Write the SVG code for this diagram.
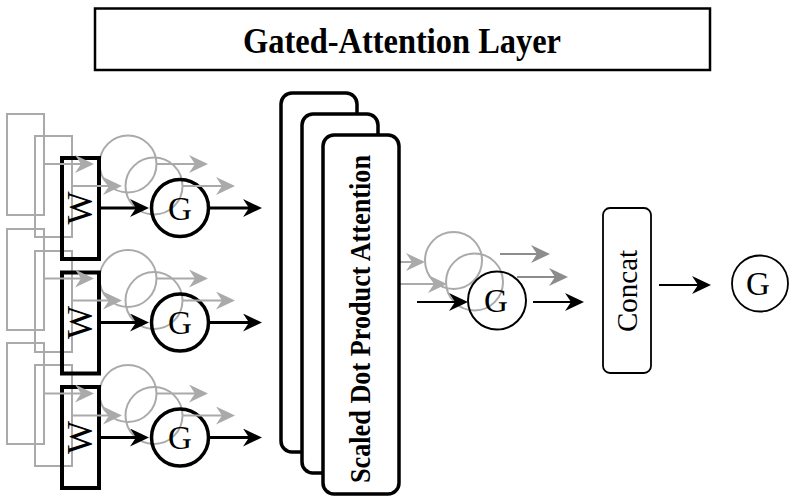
<svg xmlns="http://www.w3.org/2000/svg" width="794" height="502" viewBox="0 0 794 502">
  <style>
    .blk { fill: none; stroke: #000; }
    .gry { fill: none; stroke: #aaa; stroke-width: 2; }
    .gry2 { fill: none; stroke: #8c8c8c; stroke-width: 2; }
    .serif { font-family: "Liberation Serif", "Times New Roman", serif; fill: #000; }
    .att { fill: #fff; stroke: #000; stroke-width: 3.5; }
  </style>
  <defs>
    <marker id="ab" markerUnits="userSpaceOnUse" markerWidth="19" markerHeight="18" refX="9" refY="9" orient="auto">
      <path d="M0,0 L19,9 L0,18 L6,9 z" fill="#000"/>
    </marker>
    <marker id="ag" markerUnits="userSpaceOnUse" markerWidth="19" markerHeight="18" refX="9" refY="9" orient="auto">
      <path d="M0,0 L19,9 L0,18 L6,9 z" fill="#aaa"/>
    </marker>
    <marker id="ag2" markerUnits="userSpaceOnUse" markerWidth="19" markerHeight="18" refX="9" refY="9" orient="auto">
      <path d="M0,0 L19,9 L0,18 L6,9 z" fill="#8c8c8c"/>
    </marker>
  </defs>

  <g id="title">
    <rect x="95" y="8.5" width="615" height="61.5" fill="none" stroke="#000" stroke-width="2.5"/>
    <text class="serif" x="402" y="53" font-size="36" font-weight="bold" text-anchor="middle" textLength="318" lengthAdjust="spacingAndGlyphs">Gated-Attention Layer</text>
  </g>

  <g id="ghosts-left">
    <rect class="gry" x="7" y="114" width="37" height="101"/>
    <rect class="gry" x="35" y="136" width="37" height="101"/>
    <circle class="gry" cx="128" cy="164" r="28.5"/>
    <circle class="gry" cx="154" cy="186" r="28.5"/>
    <rect class="gry" x="7" y="229" width="37" height="101"/>
    <rect class="gry" x="35" y="251" width="37" height="101"/>
    <circle class="gry" cx="128" cy="278.5" r="28.5"/>
    <circle class="gry" cx="154" cy="300.5" r="28.5"/>
    <rect class="gry" x="7" y="343" width="37" height="101"/>
    <rect class="gry" x="35" y="365" width="37" height="101"/>
    <circle class="gry" cx="128" cy="393.5" r="28.5"/>
    <circle class="gry" cx="154" cy="415.5" r="28.5"/>
  </g>

  <g id="W1">
    <rect class="blk" x="62" y="158" width="37" height="101" stroke-width="4"/>
    <text class="serif" transform="translate(92,208) rotate(-90)" font-size="35" text-anchor="middle">W</text>
  </g>
  <g id="W2">
    <rect class="blk" x="62" y="272.5" width="37" height="101" stroke-width="4"/>
    <text class="serif" transform="translate(92,322.5) rotate(-90)" font-size="35" text-anchor="middle">W</text>
  </g>
  <g id="W3">
    <rect class="blk" x="62" y="387" width="37" height="101" stroke-width="4"/>
    <text class="serif" transform="translate(92,437.5) rotate(-90)" font-size="35" text-anchor="middle">W</text>
  </g>

  <g id="G1">
    <circle class="blk" cx="180" cy="208" r="28.5" stroke-width="3.5"/>
    <text class="serif" x="180" y="219.5" font-size="33" text-anchor="middle">G</text>
  </g>
  <g id="G2">
    <circle class="blk" cx="180" cy="322.5" r="28.5" stroke-width="3.5"/>
    <text class="serif" x="180" y="334" font-size="33" text-anchor="middle">G</text>
  </g>
  <g id="G3">
    <circle class="blk" cx="180" cy="437.5" r="28.5" stroke-width="3.5"/>
    <text class="serif" x="180" y="449" font-size="33" text-anchor="middle">G</text>
  </g>

  <g id="ghosts-mid">
    <circle class="gry" cx="453.5" cy="260.5" r="28.5"/>
    <circle class="gry" cx="474.5" cy="282" r="28.5"/>
  </g>

  <g id="connectors">
    <line class="gry" x1="44" y1="164" x2="84" y2="164" marker-end="url(#ag)"/>
    <line class="gry" x1="156" y1="164" x2="198" y2="164" marker-end="url(#ag)"/>
    <line class="gry" x1="72" y1="186" x2="112" y2="186" marker-end="url(#ag)"/>
    <line class="gry" x1="183" y1="186" x2="225" y2="186" marker-end="url(#ag)"/>
    <line class="gry" x1="44" y1="278.5" x2="84" y2="278.5" marker-end="url(#ag)"/>
    <line class="gry" x1="156" y1="278.5" x2="198" y2="278.5" marker-end="url(#ag)"/>
    <line class="gry" x1="72" y1="300.5" x2="112" y2="300.5" marker-end="url(#ag)"/>
    <line class="gry" x1="183" y1="300.5" x2="225" y2="300.5" marker-end="url(#ag)"/>
    <line class="gry" x1="44" y1="393.5" x2="84" y2="393.5" marker-end="url(#ag)"/>
    <line class="gry" x1="156" y1="393.5" x2="198" y2="393.5" marker-end="url(#ag)"/>
    <line class="gry" x1="72" y1="415.5" x2="112" y2="415.5" marker-end="url(#ag)"/>
    <line class="gry" x1="183" y1="415.5" x2="225" y2="415.5" marker-end="url(#ag)"/>
    <line class="blk" stroke-width="3" x1="99" y1="208" x2="139" y2="208" marker-end="url(#ab)"/>
    <line class="blk" stroke-width="3" x1="209" y1="208" x2="252" y2="208" marker-end="url(#ab)"/>
    <line class="blk" stroke-width="3" x1="99" y1="322.5" x2="139" y2="322.5" marker-end="url(#ab)"/>
    <line class="blk" stroke-width="3" x1="209" y1="322.5" x2="252" y2="322.5" marker-end="url(#ab)"/>
    <line class="blk" stroke-width="3" x1="99" y1="437.5" x2="139" y2="437.5" marker-end="url(#ab)"/>
    <line class="blk" stroke-width="3" x1="209" y1="437.5" x2="252" y2="437.5" marker-end="url(#ab)"/>
    <line class="gry" x1="399" y1="262" x2="415" y2="262" marker-end="url(#ag)"/>
    <line class="gry" x1="399" y1="284" x2="437" y2="284" marker-end="url(#ag)"/>
    <line class="gry2" x1="500" y1="254" x2="540" y2="254" marker-end="url(#ag2)"/>
    <line class="gry2" x1="517" y1="277" x2="558" y2="277" marker-end="url(#ag2)"/>
    <line class="blk" stroke-width="2" x1="417" y1="302" x2="458" y2="302" marker-end="url(#ab)"/>
    <line class="blk" stroke-width="2" x1="533" y1="302" x2="574" y2="302" marker-end="url(#ab)"/>
    <line class="blk" stroke-width="2" x1="659" y1="285" x2="701" y2="285" marker-end="url(#ab)"/>
  </g>

  <g id="attention">
    <rect class="att" x="281" y="93" width="76" height="359" rx="11"/>
    <rect class="att" x="302" y="114" width="76" height="359" rx="11"/>
    <rect class="att" x="323" y="135" width="76" height="359" rx="11"/>
    <text class="serif" transform="translate(370,319) rotate(-90)" font-size="30" font-weight="bold" text-anchor="middle" textLength="328" lengthAdjust="spacingAndGlyphs">Scaled Dot Product Attention</text>
  </g>

  <g id="Gmid">
    <circle class="blk" cx="497" cy="300.5" r="29" stroke-width="2"/>
    <text class="serif" x="496" y="312" font-size="33" text-anchor="middle">G</text>
  </g>

  <g id="concat">
    <rect class="blk" x="603" y="208" width="48" height="165" rx="7" stroke-width="1.8"/>
    <text class="serif" transform="translate(637,291) rotate(-90)" font-size="29" text-anchor="middle">Concat</text>
  </g>

  <g id="Gout">
    <circle class="blk" cx="760" cy="283.5" r="28" stroke-width="1.8"/>
    <text class="serif" x="758" y="295" font-size="33" text-anchor="middle">G</text>
  </g>
</svg>
